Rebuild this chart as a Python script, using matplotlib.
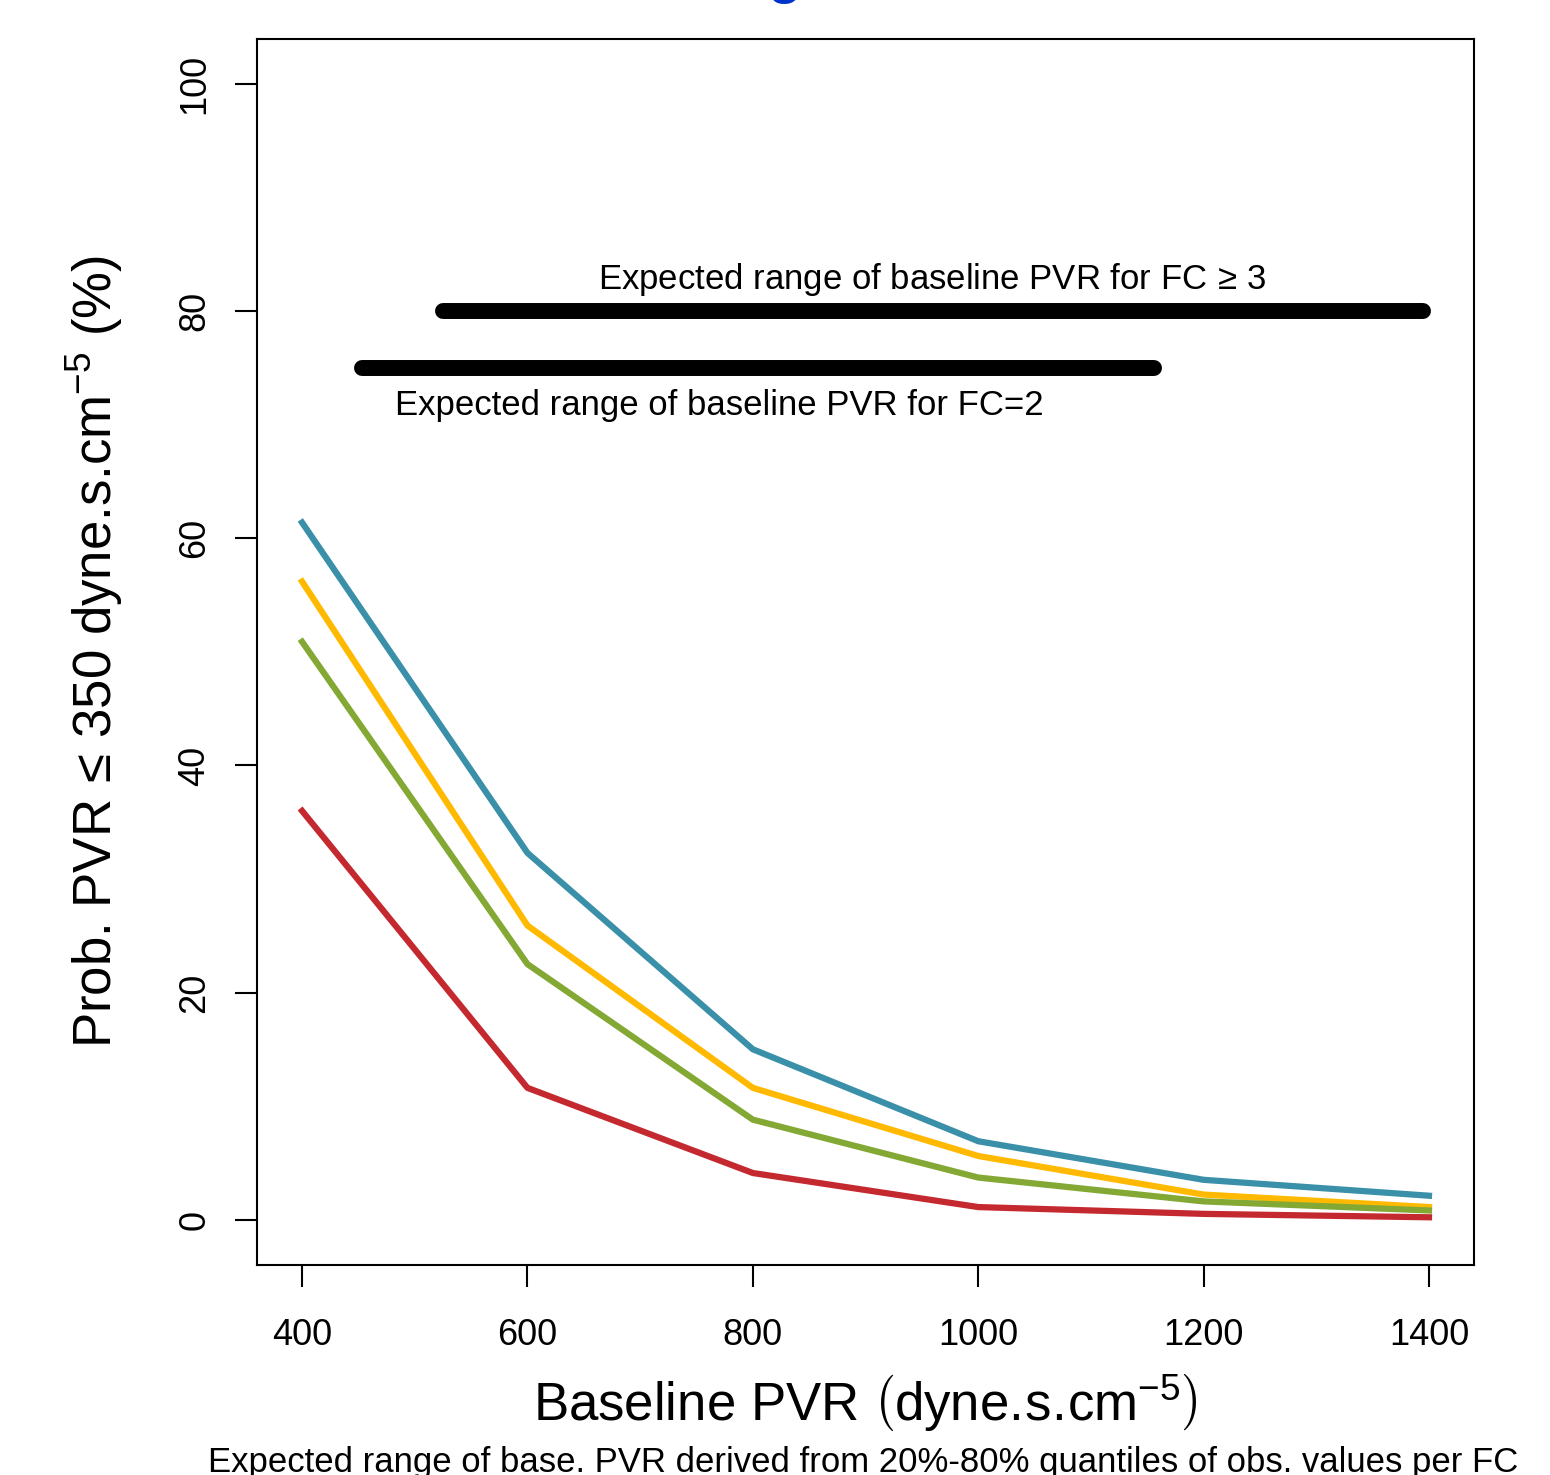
import numpy as np
import matplotlib
matplotlib.use('Agg')
import matplotlib.pyplot as plt

plt.rcParams['font.family'] = ['Liberation Sans', 'DejaVu Sans']
plt.rcParams['mathtext.fontset'] = 'custom'
plt.rcParams['mathtext.rm'] = 'Liberation Sans'
plt.rcParams['mathtext.it'] = 'Liberation Sans:italic'

# baseline PVR grid
pvr = [400, 600, 800, 1000, 1200, 1400]

# probability curves (%)
prob_blue = [61.4, 32.3, 15.0, 6.9, 3.5, 2.1]
prob_orange = [56.2, 25.9, 11.6, 5.6, 2.2, 1.1]
prob_green = [50.9, 22.5, 8.8, 3.7, 1.6, 0.8]
prob_red = [36.0, 11.6, 4.1, 1.1, 0.5, 0.2]

# expected ranges of baseline PVR per FC
range_fc3 = [525, 1395]
range_fc2 = [453, 1156]
y_fc3 = 80
y_fc2 = 75

xticks = [400, 600, 800, 1000, 1200, 1400]
yticks = [0, 20, 40, 60, 80, 100]

fig = plt.figure(figsize=(15.5, 14.75), dpi=100)
ax1 = fig.add_axes([0.1658, 0.1424, 0.951 - 0.1658, 0.9736 - 0.1424])

ax1.plot(pvr, prob_blue, color='#3a90a8', lw=4.5)
ax1.plot(pvr, prob_orange, color='#ffb900', lw=4.5)
ax1.plot(pvr, prob_green, color='#83a834', lw=4.5)
ax1.plot(pvr, prob_red, color='#c4292f', lw=4.5)

ax1.plot(range_fc3, [y_fc3, y_fc3], color='black', lw=11.5, solid_capstyle='round')
ax1.plot(range_fc2, [y_fc2, y_fc2], color='black', lw=11.5, solid_capstyle='round')
ax1.text(959, 82.8, r'Expected range of baseline PVR for FC$\,\geq\,$3',
         ha='center', va='center', fontsize=25)
ax1.text(770, 71.7, 'Expected range of baseline PVR for FC=2',
         ha='center', va='center', fontsize=25)

ax1.set_xlim(360, 1440)
ax1.set_ylim(-4, 104)
ax1.set_xticks(xticks)
ax1.set_yticks(yticks)
ax1.set_xticklabels([str(v) for v in xticks], fontsize=26)
ax1.set_yticklabels([str(v) for v in yticks], fontsize=26, rotation=90, va='center')
ax1.tick_params(length=16, width=1.5, pad=16)
ax1.tick_params(axis='x', pad=22)
for s in ax1.spines.values():
    s.set_linewidth(1.5)

ax1.set_xlabel(r'Baseline PVR $\left(\mathrm{dyne.\!s.\!cm}^{-5}\right)$', fontsize=38, labelpad=14)
ax1.set_ylabel(r'Prob. PVR$\,\leq\,$350 dyne.s.cm$^{-5}$ (%)', fontsize=38, labelpad=38)

fig.text(0.506, 1.0 + 8 / 1475, 'g', color='#0033cc', fontsize=40, ha='center', va='baseline',
         fontweight='bold')
fig.text(0.557, 0.0088, 'Expected range of base. PVR derived from 20%-80% quantiles of obs. values per FC',
         ha='center', va='center', fontsize=25)

plt.savefig('out.png', dpi=100)
